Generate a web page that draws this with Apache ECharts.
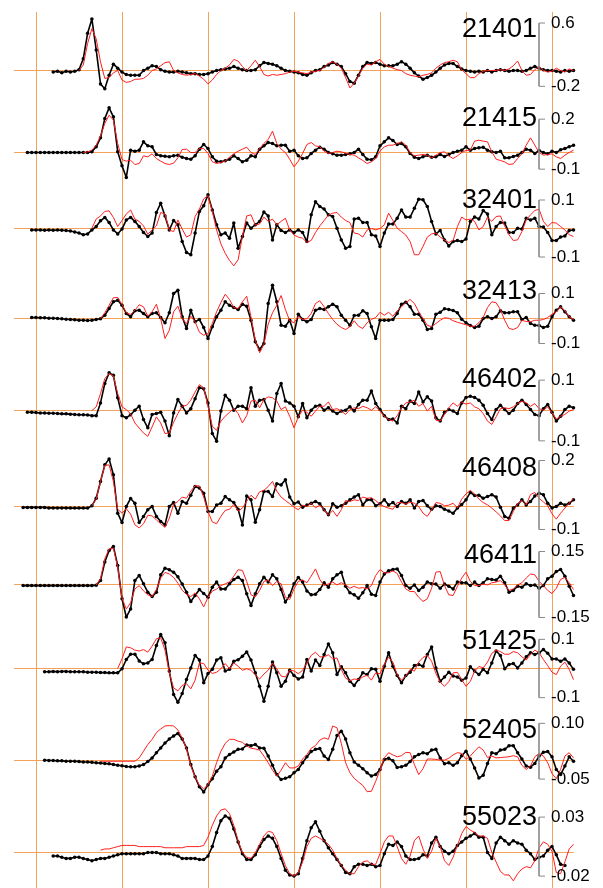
<!DOCTYPE html>
<html><head><meta charset="utf-8">
<script src="https://cdn.jsdelivr.net/npm/echarts@6/dist/echarts.min.js"></script>
<style>html,body{margin:0;padding:0;background:#fff}#c{width:603px;height:888px}</style>
</head><body><div id="c"></div><script>
// ---------- DATA ----------
// time axis (hours), one sample every 3 minutes
const TIME = [-0.25,-0.2,-0.15,-0.1,-0.05,0,0.05,0.1,0.15,0.2,0.25,0.3,0.35,0.4,0.45,0.5,0.55,0.6,0.65,0.7,0.75,0.8,0.85,0.9,0.95,
1,1.05,1.1,1.15,1.2,1.25,1.3,1.35,1.4,1.45,1.5,1.55,1.6,1.65,1.7,1.75,1.8,1.85,1.9,1.95,
2,2.05,2.1,2.15,2.2,2.25,2.3,2.35,2.4,2.45,2.5,2.55,2.6,2.65,2.7,2.75,2.8,2.85,2.9,2.95,
3,3.05,3.1,3.15,3.2,3.25,3.3,3.35,3.4,3.45,3.5,3.55,3.6,3.65,3.7,3.75,3.8,3.85,3.9,3.95,
4,4.05,4.1,4.15,4.2,4.25,4.3,4.35,4.4,4.45,4.5,4.55,4.6,4.65,4.7,4.75,4.8,4.85,4.9,4.95,
5,5.05,5.1,5.15,5.2,5.25,5.3,5.35,5.4,5.45,5.5,5.55,5.6,5.65,5.7,5.75,5.8,5.85,5.9,5.95,
6,6.05,6.1,6.15,6.2,6.25];
const HOUR_TICKS = [0,1,2,3,4,5,6];

const STATIONS = ['21401','21415','32401','32413','46402','46408','46411','51425','52405','55023'];
const SCALE_TOP = [0.6,0.2,0.1,0.1,0.1,0.2,0.15,0.1,0.10,0.03];
const SCALE_BOTTOM = [-0.2,-0.1,-0.1,-0.1,-0.1,-0.1,-0.15,-0.1,-0.05,-0.02];
const SCALE_TOP_LABEL = ['0.6','0.2','0.1','0.1','0.1','0.2','0.15','0.1','0.10','0.03'];
const SCALE_BOTTOM_LABEL = ['-0.2','-0.1','-0.1','-0.1','-0.1','-0.1','-0.15','-0.1','-0.05','-0.02'];

// first sample time of each record
const OBS_START = [0.2,-0.1,-0.05,-0.05,-0.1,-0.15,-0.15,0.1,0.1,0.2];
const MOD_START = [0.5,0.55,0.65,0.75,0.65,0.65,0.7,0.95,0.75,0.75];

// observed (black) and modelled (red) sea level, metres
const OBS_21401 = [-0.02,-0.01,-0.03,-0.01,-0.02,-0.01,0.01,0.15,0.47,0.65,0.26,-0.17,-0.23,-0.06,0.08,0.03,-0.02,-0.05,-0.06,-0.06,-0.06,0.00,0.03,0.06,0.05,0.01,-0.01,-0.02,-0.02,-0.01,-0.02,-0.03,-0.04,-0.04,-0.05,-0.05,-0.04,-0.02,0.00,0.01,0.02,0.03,0.05,0.03,0.01,0.00,0.00,0.01,0.06,0.10,0.09,0.08,0.06,0.03,0.00,-0.01,-0.02,-0.03,-0.05,-0.06,-0.03,0.00,0.01,0.05,0.07,0.10,0.08,0.05,-0.04,-0.14,-0.16,-0.06,0.05,0.10,0.09,0.10,0.08,0.06,0.06,0.06,0.08,0.11,0.08,0.03,-0.03,-0.07,-0.11,-0.09,-0.06,-0.02,0.03,0.07,0.09,0.09,0.05,0.02,0.00,-0.01,-0.02,-0.01,-0.02,0.00,-0.02,0.00,0.01,0.00,-0.01,0.00,0.00,-0.01,0.00,0.03,0.05,0.03,0.01,0.00,0.00,-0.01,-0.02,0.00,-0.01,0.00];
const MOD_21401 = [0,0.07,0.34,0.53,0.40,0.11,-0.10,-0.09,-0.03,0,-0.12,-0.15,-0.14,-0.11,-0.11,-0.10,-0.06,0,0.02,0.06,0.10,0.11,0,-0.03,-0.05,-0.06,-0.05,-0.04,-0.07,-0.11,-0.17,-0.12,-0.05,0,0.03,0.07,0.14,0.12,0.05,0,0.06,0.13,0.05,-0.05,-0.07,-0.05,-0.06,-0.05,-0.04,-0.02,-0.01,-0.02,-0.03,-0.04,-0.02,-0.01,0,0.04,0.09,0.11,0.08,0.03,-0.09,-0.22,-0.16,-0.07,0.03,0.08,0.07,0.11,0.14,0.08,0.05,0.03,0.01,0,-0.04,-0.06,-0.07,-0.08,-0.06,-0.05,-0.03,0.03,0.07,0.10,0.11,0.13,0.11,0.01,-0.04,-0.09,-0.09,-0.04,-0.01,0,0,0,0.01,0,0.02,0.06,0.12,0,-0.06,-0.05,0.01,0.05,0,-0.02,-0.01,0.03,0,-0.02,0.02,0];

const OBS_21415 = [0,0,0,0,0,0,0,0,0,0,0,0,0,0,0,0.004,0.034,0.088,0.204,0.268,0.214,0.004,-0.08,-0.15,0.014,0.008,0.014,0.064,0.04,0.034,-0.012,-0.02,-0.022,-0.026,-0.02,-0.016,-0.028,-0.036,-0.04,-0.02,0.02,0.048,0.024,-0.026,-0.052,-0.056,-0.05,-0.04,-0.02,-0.036,-0.056,-0.046,-0.02,-0.026,0.02,0.04,0.06,0.054,0.04,0.044,0.044,0.008,0.014,-0.02,-0.036,-0.032,-0.006,0.014,0.032,0.02,0,-0.008,-0.016,-0.016,-0.012,-0.008,0,0.02,-0.012,-0.04,-0.044,-0.026,0.04,0.064,0.088,0.072,0.048,0.054,0.034,-0.006,-0.028,-0.036,-0.026,-0.016,-0.028,-0.026,-0.012,-0.024,-0.012,0,0.008,0.014,0.034,0.014,0.024,0.028,0.032,0.014,0.004,0,0.008,-0.032,-0.032,-0.024,-0.016,0,0.02,0.014,-0.006,0.012,0,-0.008,0.008,0,0.016,0.024,0.034,0.044];
const MOD_21415 = [0,0.004,0.014,0.044,0.10,0.174,0.224,0.194,0.054,-0.042,-0.052,-0.046,-0.072,-0.066,-0.02,-0.026,-0.008,-0.036,-0.052,-0.066,-0.072,-0.064,-0.032,0.018,0.02,0,0,0.024,0.024,-0.006,-0.056,-0.066,-0.06,-0.052,-0.028,-0.008,0.008,0.02,0.032,0,-0.012,0.024,0.054,0.078,0.128,0.054,0.02,0,-0.04,-0.086,-0.052,-0.006,0.048,0.06,0.04,0.034,0.008,-0.006,0,0.008,0.004,-0.004,-0.012,-0.016,-0.032,-0.048,-0.066,-0.056,-0.036,0.008,0.034,0.044,0.044,0.054,0.064,0.044,0,-0.02,-0.016,-0.012,-0.016,-0.032,-0.016,0,0.004,-0.02,-0.036,-0.02,0,0.012,0.014,0.068,0.074,0.068,0.064,0.004,-0.04,-0.048,-0.056,-0.072,-0.068,-0.036,-0.008,0.044,0.088,0.044,0,-0.016,-0.012,-0.008,-0.026,-0.036,-0.016,0,0.014];

const OBS_32401 = [-0.005,-0.005,-0.005,-0.006,-0.005,-0.006,-0.005,-0.006,-0.007,-0.009,-0.012,-0.016,-0.022,-0.019,-0.005,0.007,0.027,0.039,0.021,-0.005,-0.019,-0.002,0.03,0.039,0.025,0.007,-0.014,-0.028,-0.016,0.056,0.089,0.044,-0.005,0.028,0.013,-0.046,-0.084,-0.092,-0.016,0.06,0.08,0.118,0.065,0.013,-0.022,-0.016,-0.034,0.019,-0.069,-0.028,0.019,0.001,0.013,0.025,0.058,0.044,-0.04,0.013,-0.007,-0.014,-0.005,-0.014,-0.005,-0.014,-0.046,0.048,0.094,0.077,0.068,0.048,0.042,0.001,-0.04,-0.069,-0.063,0.033,0.036,0.021,0.021,-0.022,-0.026,-0.063,-0.016,0.016,0.016,0.036,0.065,0.04,0.04,0.071,0.103,0.101,0.077,0.025,-0.019,-0.007,-0.04,-0.061,-0.046,-0.042,-0.046,-0.037,0.025,0.04,0.033,0.063,0.051,-0.022,0.007,0.021,0.019,-0.014,-0.014,0.001,-0.002,0.036,0.03,0.036,0.007,0.005,-0.014,-0.042,-0.042,-0.03,-0.026,-0.007,-0.005];
const MOD_32401 = [0.001,0.033,0.044,0.06,0.062,0.039,0.007,0.028,0.051,0.065,0.033,0.025,0.009,-0.02,-0.005,0.009,0.056,0.051,-0.005,-0.011,0.03,-0.002,-0.03,-0.022,0.042,0.068,0.104,0.115,0.06,-0.005,-0.054,-0.087,-0.112,-0.131,-0.11,-0.028,0.044,0.048,0.012,0.016,0.04,0.025,0.033,0.013,0.025,0.036,-0.005,-0.023,-0.03,-0.034,-0.049,-0.042,-0.014,0.009,0.028,0.047,0.054,0.056,0.04,0.028,0.021,-0.016,-0.019,-0.03,-0.005,0,-0.005,0,0.013,0.054,0.028,0.001,-0.011,-0.023,-0.046,-0.092,-0.092,-0.063,-0.03,-0.019,-0.016,-0.03,-0.04,-0.049,-0.042,0.007,0.04,0.03,0.033,0.025,-0.005,0.007,0.04,0.025,0.042,0.044,0.009,-0.022,-0.042,-0.04,-0.011,0.03,0.048,0.063,0.068,0.025,0.007,0.021,0.019,0.007,-0.005,-0.022,-0.028];

const OBS_32413 = [0.004,0.004,0.003,0.003,0.001,0.001,0,-0.001,-0.003,-0.004,-0.005,-0.007,-0.007,-0.008,-0.007,-0.004,-0.001,0.013,0.04,0.067,0.073,0.053,0.02,0.007,0.031,0.033,0.02,0.007,0.02,0.023,0.004,-0.017,0.023,0.1,0.113,0.007,-0.04,0.033,-0.013,-0.004,-0.036,-0.08,-0.033,0.007,0.033,0.067,0.053,0.044,0.036,0.057,0.049,-0.007,-0.093,-0.124,-0.1,0.06,0.133,0.067,-0.027,-0.031,-0.007,-0.06,0.017,-0.004,-0.013,-0.004,0.033,0.04,0.036,0.047,0.057,0.047,0.013,-0.007,-0.027,0.012,0.013,0.031,0.02,-0.033,-0.08,-0.007,-0.007,-0.007,-0.004,0.02,0.057,0.065,0.047,0.017,0.017,-0.007,-0.044,-0.04,0.017,0.025,0.039,0.036,0.032,0.023,-0.003,-0.017,-0.028,-0.036,-0.031,0,0.007,0,0.007,0.031,0.023,0.023,0.027,0.027,-0.004,0.004,-0.02,-0.027,-0.028,-0.036,-0.031,0.007,0.033,0.047,0.027,0.007,-0.007];
const MOD_32413 = [0,0.023,0.053,0.083,0.084,0.056,0.023,0.016,0.033,0.055,0.047,0.009,0.027,0.057,0,-0.08,-0.047,0.027,0.049,0,-0.02,0.009,-0.013,-0.055,-0.067,-0.06,-0.02,0.027,0.064,0.097,0.076,0.044,0.04,0.067,0.089,0.007,-0.087,-0.137,-0.103,-0.023,0.023,0.053,0.092,0.036,-0.009,-0.017,0.009,-0.004,-0.001,0.02,0.06,0.071,0.047,0.02,-0.004,-0.023,-0.036,-0.044,-0.033,-0.009,-0.031,-0.04,-0.017,-0.004,0.004,0.025,0.013,0.025,0.009,0.031,0.047,0.063,0.076,0.06,0.027,0,-0.027,-0.033,-0.02,-0.007,0.003,0.001,-0.009,-0.015,-0.02,-0.025,-0.031,-0.031,-0.017,0.004,0.044,0.067,0.063,0.036,-0.007,-0.04,-0.044,-0.036,-0.007,-0.012,-0.013,-0.007,-0.007,-0.004,0.004,0.017,0.027,0.047,0.031,0.007,-0.004];

const OBS_46402 = [-0.006,-0.006,-0.007,-0.008,-0.008,-0.009,-0.009,-0.01,-0.011,-0.011,-0.012,-0.013,-0.014,-0.014,-0.015,-0.017,-0.017,0.025,0.089,0.124,0.116,0.042,-0.017,-0.024,-0.014,0.001,0.014,-0.03,-0.057,-0.013,-0.01,-0.006,-0.035,-0.083,-0.008,0.036,0.014,-0.008,0.006,0.039,0.075,0.072,0.025,-0.076,-0.101,-0.002,0.05,0.034,0.001,0.014,0.014,0.006,0.075,0.014,0.034,0.036,0.001,-0.035,0.056,0.089,0.031,0.025,0.014,-0.021,0.023,-0.024,0.001,0.014,0.017,0.001,0.009,-0.002,-0.01,-0.002,0.001,0.012,-0.002,0.02,0.034,0.034,0.064,0.023,0.003,-0.017,-0.03,-0.028,-0.041,0.014,0.006,0.031,0.023,0.061,0.028,0.045,0.031,-0.024,-0.035,-0.006,0.003,-0.002,-0.01,0.025,0.043,0.047,0.043,0.034,0.017,-0.01,-0.03,0.003,0.017,0.003,-0.01,0.001,0.023,0.034,0.02,0.003,-0.013,-0.017,0.006,0.02,-0.006,-0.035,-0.019,0.003,0.014,0.009];
const MOD_46402 = [0,0.012,0.056,0.105,0.122,0.114,0.056,0.012,0.003,-0.011,-0.041,-0.058,-0.074,-0.085,-0.054,-0.021,-0.041,-0.076,-0.074,-0.039,-0.01,0.014,0.017,0.034,0.061,0.085,0.075,0.014,-0.052,-0.065,-0.035,-0.019,-0.006,0.007,-0.01,-0.041,-0.017,0.031,0.034,0.009,0.036,0.045,0.042,0.031,0.003,0.012,-0.019,-0.057,-0.021,0.001,-0.006,-0.019,-0.002,0.014,0.014,0.028,0.003,0.006,-0.002,-0.013,0.003,0.009,0.006,0.014,0.009,0.001,0.012,-0.002,-0.019,-0.03,-0.035,-0.017,0.009,0.025,0.028,0.034,0.014,0.023,-0.002,0.014,-0.032,-0.035,-0.013,0.009,0.025,0.014,0.028,0.021,0.025,0.012,0.006,-0.01,-0.035,-0.046,-0.021,0.006,0.009,0.006,0.012,0.023,0.031,0.025,0.014,0.023,0.006,0.001,0.012,-0.008,-0.028,-0.019,-0.013,-0.002,0.003];

const OBS_46408 = [-0.004,-0.004,-0.004,-0.004,-0.004,-0.004,-0.006,-0.006,-0.006,-0.006,-0.006,-0.007,-0.007,-0.007,-0.007,-0.007,0.003,0.036,0.109,0.181,0.207,0.138,-0.029,-0.07,0,0.035,0.014,-0.07,-0.043,-0.014,0,-0.043,-0.065,-0.08,0,0.017,-0.029,0.022,0.014,0.049,0.087,0.08,0.058,-0.022,-0.022,0.007,0.014,0.043,0.029,0.017,-0.012,-0.08,0.046,0.029,-0.068,-0.014,0.065,0.065,0.043,0.099,0.094,0.116,0.041,0.012,0.02,-0.003,0.006,0.014,0.022,0.012,-0.014,-0.036,0.012,-0.003,0.003,0.014,0.029,0.041,0.051,0.007,0.029,0.029,0.003,0.012,0.029,0.007,0.017,0,0.022,0.014,0.029,-0.007,0.022,0.026,0.003,-0.012,0.003,0,-0.012,-0.02,-0.029,-0.007,0.009,0.029,0.061,0.048,0.049,0.036,0.043,0.051,0.041,-0.003,-0.043,-0.051,-0.007,0.007,0.029,0.007,0.022,0.046,0.058,0.051,0.014,-0.006,0,0.014,0.007,0.014,0.029];
const MOD_46408 = [0.003,0.032,0.109,0.178,0.181,0.109,-0.012,-0.029,-0.01,-0.033,-0.08,-0.093,-0.075,-0.038,-0.041,-0.058,-0.075,-0.091,-0.051,0.009,0.022,0.041,0.036,0.067,0.09,0.09,0.041,-0.022,-0.067,-0.075,-0.043,-0.017,-0.012,0.009,-0.02,-0.007,0.023,0.049,0.032,0.064,0.07,0.087,0.109,0.067,0.041,0.026,0.012,-0.003,-0.014,0.006,0,0.014,-0.006,0.006,-0.014,-0.038,-0.017,-0.043,-0.014,0.026,0.022,0.029,0.026,0.041,0.036,0.038,0.026,0.009,0,-0.007,-0.012,0.017,0.017,0.01,0.019,0.014,0,-0.029,-0.043,-0.014,0.017,0.014,0.003,0.006,0.014,-0.006,0.032,0.055,0.07,0.055,0.033,0.017,0.007,-0.007,-0.023,-0.041,-0.061,-0.061,-0.022,0.012,0.026,0.007,0.052,0.061,0.036,0.02,0.003,-0.032,-0.055,-0.029,-0.007,0.014,0.036];

const OBS_46411 = [-0.005,-0.005,-0.005,-0.005,-0.005,-0.005,-0.005,-0.005,-0.005,-0.005,-0.005,-0.005,-0.005,-0.005,-0.005,-0.005,-0.005,-0.003,0.018,0.102,0.155,0.173,0.086,-0.065,-0.148,-0.111,0.018,0.041,0.003,-0.035,-0.055,-0.035,0.044,0.074,0.067,0.056,0.035,0.002,-0.035,-0.077,-0.05,-0.023,-0.041,-0.058,-0.012,0.011,-0.02,-0.02,0.003,0.023,0.033,0.018,-0.042,-0.095,-0.042,0.003,0.033,0.011,0.044,0.026,-0.023,-0.08,-0.05,0.003,0.032,0.011,-0.029,-0.047,-0.044,-0.023,0.008,-0.012,0.026,0.044,0.056,-0.008,-0.038,-0.047,-0.062,-0.038,-0.005,-0.044,-0.05,0.011,0.048,0.062,0.068,0.071,0.041,-0.005,-0.017,-0.002,-0.027,-0.012,0.011,0.003,0.002,-0.017,0.002,-0.008,-0.02,0.011,0.008,0.008,-0.005,0.011,-0.005,0.008,0.026,0.023,0.02,0.038,0.008,-0.035,-0.027,-0.008,-0.012,0.003,-0.005,-0.002,-0.017,-0.005,0.026,0.038,0.059,0.068,0.038,-0.008,-0.05];
const MOD_46411 = [-0.002,0.026,0.117,0.162,0.165,0.079,-0.062,-0.111,-0.083,-0.02,-0.005,-0.029,-0.047,-0.055,-0.023,0.029,0.055,0.048,0.032,0.006,-0.026,-0.045,-0.055,-0.038,-0.065,-0.102,-0.058,-0.03,-0.021,-0.005,0.003,0.012,0.038,0.067,0.064,0.014,-0.047,-0.056,-0.027,0.014,0.021,-0.005,0.014,0.003,-0.058,-0.068,-0.02,0.014,0.021,0.008,0.038,0.071,0.023,-0.005,0.003,0.011,-0.002,0.008,-0.002,-0.017,-0.008,-0.017,-0.014,-0.02,-0.005,0.041,0.068,0.053,0.053,0.062,0.05,0.011,-0.02,-0.032,-0.032,-0.058,-0.077,-0.065,-0.017,0.056,0.059,-0.005,-0.047,-0.05,-0.008,0.029,0.056,0.014,-0.005,-0.005,0.002,-0.002,0.008,0.011,0.018,-0.002,-0.027,-0.02,-0.002,0.008,0.029,0.048,0.044,0.014,-0.005,-0.027,-0.041,-0.017,0.023,0.032,0.008,-0.023];

const OBS_51425 = [-0.011,-0.011,-0.01,-0.011,-0.01,-0.01,-0.011,-0.011,-0.011,-0.011,-0.013,-0.013,-0.013,-0.014,-0.014,-0.015,-0.015,-0.015,-0.001,0.031,0.049,0.049,0.026,0.016,0.019,0.031,0.079,0.117,0.088,-0.009,-0.089,-0.116,-0.086,-0.038,0.002,0.045,0.029,-0.049,-0.017,-0.003,0.029,0.037,-0.009,-0.003,0.025,0.03,0.042,0.057,0.029,-0.015,-0.061,-0.112,-0.061,0.022,-0.015,-0.061,-0.044,-0.006,-0.024,-0.036,-0.029,0.031,-0.009,0.029,0.01,0.048,0.084,0.054,-0.021,0.006,-0.015,-0.044,-0.058,-0.038,-0.015,-0.021,-0.001,-0.003,-0.044,0.008,0.054,0.008,-0.024,-0.049,-0.024,-0.013,0.01,0.014,0.008,0.048,0.074,0.002,-0.044,-0.029,-0.013,-0.026,-0.029,-0.04,-0.033,0.006,-0.009,-0.021,-0.003,-0.015,0.019,0.06,0.045,-0.001,0.014,0.017,0.002,0.019,0.04,0.054,0.048,0.054,0.065,0.052,0.033,0.033,0.025,0.033,0.019,-0.003];
const MOD_51425 = [0,0.033,0.074,0.071,0.063,0.06,0.065,0.056,0.077,0.102,0.105,0.063,-0.015,-0.066,-0.077,-0.058,-0.052,-0.07,-0.04,0.019,0.017,-0.006,-0.017,-0.013,-0.001,0.017,-0.001,0.019,0.008,-0.006,-0.001,-0.006,-0.022,-0.036,-0.019,-0.006,0.019,-0.001,-0.026,-0.029,-0.006,-0.008,-0.018,-0.006,0.019,0.045,0.056,0.04,0.04,0.047,0.033,0.036,-0.003,-0.033,-0.042,-0.036,-0.038,-0.029,-0.023,-0.04,-0.015,-0.018,0.014,0.039,0.022,-0.021,-0.04,-0.026,-0.003,-0.009,0.022,0.038,0.045,0.025,-0.017,-0.047,-0.061,-0.045,-0.015,-0.013,-0.038,-0.061,-0.044,-0.009,0.007,0.002,0.022,0.052,0.063,0.058,0.049,0.049,0.058,0.054,0.04,0.029,0.048,0.063,0.054,0.031,0.01,-0.013,-0.021,0.008,0.022,-0.003,-0.038];

const OBS_52405 = [0.001,0,0,-0.001,-0.001,-0.002,-0.002,-0.002,-0.003,-0.004,-0.004,-0.005,-0.006,-0.007,-0.008,-0.009,-0.011,-0.013,-0.014,-0.016,-0.017,-0.017,-0.015,-0.011,-0.003,0.007,0.021,0.034,0.047,0.058,0.066,0.073,0.058,0.034,-0.011,-0.044,-0.071,-0.085,-0.065,-0.049,-0.029,-0.017,0.007,0.016,0.023,0.03,0.031,0.042,0.04,0.043,0.034,0.033,0.012,-0.013,-0.038,-0.051,-0.048,-0.044,-0.033,-0.024,-0.006,0.01,0.024,0.03,0.032,0.012,0.003,0.03,0.067,0.079,0.058,0.021,-0.004,-0.013,-0.022,-0.033,-0.042,-0.038,-0.024,0.003,0.006,-0.001,-0.019,-0.017,-0.013,-0.003,0.01,0.016,0.021,0.018,0.028,0.03,0.007,-0.009,-0.006,-0.013,-0.006,0.013,0.025,0.004,-0.02,-0.047,-0.04,-0.008,0.021,0.018,0.028,0.03,0.04,0.04,0.021,0.004,-0.015,-0.018,-0.008,0.012,0.022,0.024,0.01,-0.024,-0.038,-0.015,0.01,-0.002];
const MOD_52405 = [-0.002,-0.002,-0.002,-0.002,-0.002,-0.002,-0.002,-0.002,-0.002,0.007,0.025,0.043,0.057,0.075,0.085,0.093,0.094,0.093,0.082,0.061,0.031,-0.015,-0.044,-0.067,-0.076,-0.065,-0.042,-0.006,0.025,0.046,0.057,0.057,0.052,0.049,0.039,0.033,0.031,0.028,0.012,-0.006,-0.026,-0.042,-0.026,-0.006,-0.02,-0.02,-0.015,0.004,0.016,0.033,0.04,0.055,0.061,0.057,0.093,0.088,0.046,-0.006,-0.033,-0.048,-0.058,-0.067,-0.084,-0.083,-0.056,-0.026,0.007,0.021,0.015,0.01,0.013,0.022,0.021,-0.011,-0.038,-0.022,0.004,0.004,0.003,0.001,0.001,0.006,0.015,0.021,0.019,0.003,0.012,0.025,0.037,0.028,0.008,0.012,0.007,0.008,0.009,0.01,0.013,0.01,-0.013,-0.024,-0.015,0.01,0.019,0.012,-0.006,-0.035,-0.049,-0.024,0.012,0.021,0.007];

const OBS_55023 = [-0.003,-0.003,-0.004,-0.005,-0.005,-0.004,-0.004,-0.005,-0.006,-0.007,-0.006,-0.005,-0.005,-0.004,-0.003,-0.002,-0.001,-0.001,-0.001,-0.001,-0.001,-0.001,0,0,0,-0.001,-0.001,-0.001,-0.002,-0.003,-0.005,-0.005,-0.005,-0.005,-0.006,-0.006,-0.003,0.005,0.017,0.027,0.031,0.029,0.02,0.009,-0.001,-0.006,-0.006,-0.002,0.005,0.011,0.014,0.012,0.005,-0.005,-0.015,-0.019,-0.02,-0.018,-0.005,0.01,0.021,0.026,0.018,0.01,0.004,-0.001,-0.006,-0.011,-0.017,-0.018,-0.012,-0.01,-0.01,-0.011,-0.01,-0.012,-0.011,-0.001,0.007,0.006,0.009,0.005,-0.003,-0.006,-0.006,-0.005,-0.002,-0.003,0.008,0.013,0.005,0.001,-0.001,0.001,0.006,0.009,0.012,0.014,0.016,0.013,0.013,0,-0.005,0.008,0.013,0.01,0.007,0.01,0.008,0.007,0.002,-0.001,-0.006,-0.004,-0.003,0.002,0.005,-0.002,-0.01,-0.011];
const MOD_55023 = [0.002,0.003,0.003,0.004,0.005,0.006,0.006,0.006,0.006,0.005,0.005,0.005,0.005,0.005,0.005,0.004,0.004,0.004,0.004,0.004,0.005,0.005,0.005,0.005,0.006,0.013,0.023,0.031,0.036,0.037,0.033,0.023,0.01,0,-0.004,-0.005,0,0.007,0.014,0.018,0.017,0.01,-0.001,-0.011,-0.018,-0.02,-0.017,-0.008,0.005,0.012,0.014,0.012,0.01,0.007,0.002,-0.005,-0.011,-0.015,-0.018,-0.018,-0.012,-0.008,-0.007,-0.01,-0.01,-0.001,0.009,0.014,0.014,0.005,-0.005,-0.01,-0.003,0.01,0.014,0.003,-0.005,0.001,0.012,0.005,-0.007,-0.011,-0.004,0.006,0.016,0.022,0.019,0.017,0.014,0.014,0.012,0,-0.008,-0.016,-0.019,-0.019,-0.024,-0.018,-0.014,-0.012,-0.013,-0.007,0.004,0.009,0.007,0.001,-0.017,-0.018,-0.008,0.003,0.007];

const OBS = [OBS_21401,OBS_21415,OBS_32401,OBS_32413,OBS_46402,OBS_46408,OBS_46411,OBS_51425,OBS_52405,OBS_55023];
const MOD = [MOD_21401,MOD_21415,MOD_32401,MOD_32413,MOD_46402,MOD_46408,MOD_46411,MOD_51425,MOD_52405,MOD_55023];

// ---------- LAYOUT ----------
const X_MIN = -0.25, X_MAX = 6.25;
const PLOT_LEFT = 14.5, PLOT_WIDTH = 559;
const PANEL_ZERO_PX = [70.5,152.5,228.5,318.5,410.5,506.5,584.5,668.5,760.5,852.5];
const PX_PER_UNIT = [79.125,166.67,285,250,303.5,230,220,291.5,371.3,1180];
const NAME_DY = [7,-1,1,-2,-1,8,4,2,7,0];
const BAR_X = 539;
const ORANGE = '#f4a25a';
const FONT = '"Liberation Sans", Arial, Helvetica, sans-serif';

function toPairs(start, vals) {
  const i0 = Math.round((start - TIME[0]) / (TIME[1] - TIME[0]));
  const out = [];
  vals.forEach((v, i) => { if (TIME[i0 + i] !== undefined) out.push([TIME[i0 + i], v]); });
  return out;
}

const grid = [], xAxis = [], yAxis = [], series = [];
for (let i = 0; i < STATIONS.length; i++) {
  const top = PANEL_ZERO_PX[i] - SCALE_TOP[i] * PX_PER_UNIT[i];
  const height = (SCALE_TOP[i] - SCALE_BOTTOM[i]) * PX_PER_UNIT[i];
  grid.push({left: PLOT_LEFT, width: PLOT_WIDTH, top: top, height: height});
  xAxis.push({type: 'value', gridIndex: i, min: X_MIN, max: X_MAX,
    axisLine: {show: true, onZero: true, lineStyle: {color: ORANGE, width: 1}},
    axisTick: {show: false}, axisLabel: {show: false}, splitLine: {show: false}});
  yAxis.push({type: 'value', gridIndex: i, min: SCALE_BOTTOM[i], max: SCALE_TOP[i],
    axisLine: {show: false}, axisTick: {show: false}, axisLabel: {show: false}, splitLine: {show: false}});
  series.push({type: 'line', xAxisIndex: i, yAxisIndex: i, data: toPairs(OBS_START[i], OBS[i]),
    clip: false, silent: true, symbol: 'circle', symbolSize: 3.5, showSymbol: true,
    lineStyle: {color: '#000', width: 1.6}, itemStyle: {color: '#000'}, z: 3});
  series.push({type: 'line', xAxisIndex: i, yAxisIndex: i, data: toPairs(MOD_START[i], MOD[i]),
    clip: false, silent: true, symbol: 'none', lineStyle: {color: '#ff1f1f', width: 1}, z: 4});
  const idx = i;
  series.push({type: 'custom', xAxisIndex: i, yAxisIndex: i, clip: false, silent: true, z: 5,
    data: [[0, SCALE_TOP[i], SCALE_BOTTOM[i]]],
    renderItem: function (params, api) {
      const yT = api.coord([0, api.value(1)])[1];
      const yB = api.coord([0, api.value(2)])[1];
      return {type: 'group', children: [
        {type: 'line', shape: {x1: BAR_X, y1: yT, x2: BAR_X, y2: yB}, style: {stroke: '#8a8a8a', lineWidth: 1.6}},
        {type: 'line', shape: {x1: BAR_X, y1: yT, x2: BAR_X + 6, y2: yT}, style: {stroke: '#8a8a8a', lineWidth: 1}},
        {type: 'line', shape: {x1: BAR_X, y1: yB, x2: BAR_X + 6, y2: yB}, style: {stroke: '#8a8a8a', lineWidth: 1}},
        {type: 'text', style: {text: SCALE_TOP_LABEL[idx], x: BAR_X + 12, y: yT, textAlign: 'left', textVerticalAlign: 'middle', align: 'left', verticalAlign: 'middle', font: '17px ' + FONT, fill: '#000'}},
        {type: 'text', style: {text: SCALE_BOTTOM_LABEL[idx], x: BAR_X + 12, y: yB, textAlign: 'left', textVerticalAlign: 'middle', align: 'left', verticalAlign: 'middle', font: '17px ' + FONT, fill: '#000'}},
        {type: 'text', style: {text: STATIONS[idx], x: BAR_X - 2, y: yT + NAME_DY[idx], textAlign: 'right', textVerticalAlign: 'middle', align: 'right', verticalAlign: 'middle', font: '27px ' + FONT, fill: '#000'}}
      ]};
    }});
}
// full-height hourly lines
const HG = STATIONS.length;
grid.push({left: 36, width: 516, top: 12, bottom: 0});
xAxis.push({type: 'value', gridIndex: HG, min: HOUR_TICKS[0], max: HOUR_TICKS[HOUR_TICKS.length - 1], interval: 1,
  axisLine: {show: false}, axisTick: {show: false}, axisLabel: {show: false},
  splitLine: {show: true, lineStyle: {color: ORANGE, width: 1}}, z: 0});
yAxis.push({type: 'value', gridIndex: HG, min: 0, max: 1, show: false});

const chart = echarts.init(document.getElementById('c'), null, {renderer: 'canvas'});
chart.setOption({animation: false, backgroundColor: '#fff', grid, xAxis, yAxis, series});
</script></body></html>
